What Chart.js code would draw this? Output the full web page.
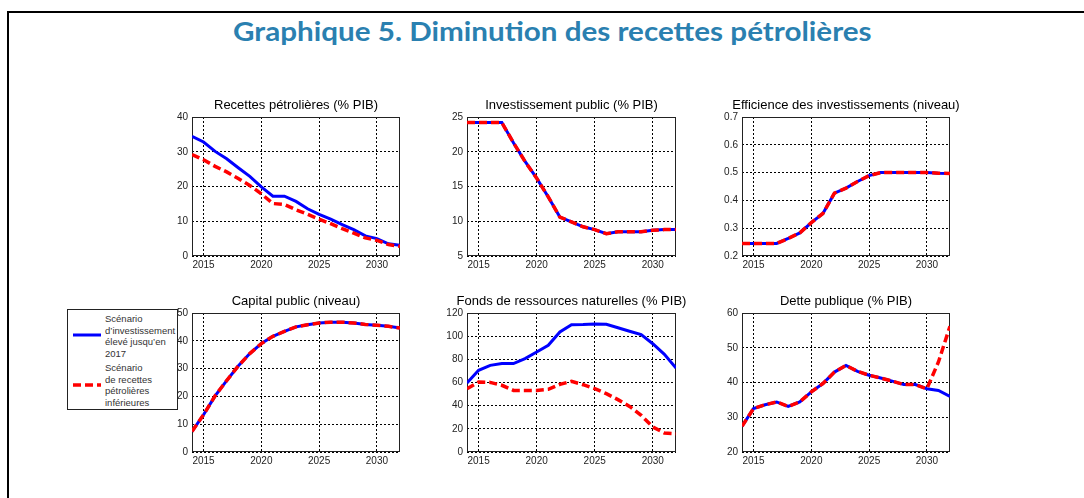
<!DOCTYPE html>
<html>
<head>
<meta charset="utf-8">
<script src="https://cdn.jsdelivr.net/npm/chart.js@4"></script>
<style>
  body { margin: 0; background: #fff; width: 1084px; height: 498px; overflow: hidden; position: relative;
         font-family: "Liberation Sans", Arial, sans-serif; }
  .frame { position: absolute; left: 7px; top: 11px; width: 1100px; height: 520px;
           border-top: 2px solid #000; border-left: 2px solid #000; }
  #mainTitle { position: absolute; top: 15px; left: 252px; width: 600px; text-align: center;
               font-family: Lato, "Open Sans", sans-serif; font-weight: bold; font-size: 26px;
               color: #2a80b0; white-space: nowrap; }
  #mainTitle span { display: inline-block; transform-origin: center; }
  canvas { position: absolute; }
  #legend { position: absolute; left: 67px; top: 309px; width: 109px; height: 99px; border: 1px solid #222; }
  #legend svg { position: absolute; left: 0; top: 0; }
  .lgText { position: absolute; left: 37px; font-size: 9.5px; line-height: 11.7px; color: #333; }
</style>
</head>
<body>
<div class="frame"></div>
<div id="mainTitle"><span>Graphique 5. Diminution des recettes pétrolières</span></div>

<div id="legend">
  <svg width="40" height="99">
    <line x1="5" y1="25" x2="33" y2="25" stroke="#0000ff" stroke-width="3"/>
    <line x1="5" y1="75" x2="33" y2="75" stroke="#ff0000" stroke-width="3.5" stroke-dasharray="8,4"/>
  </svg>
  <div class="lgText" id="lg1" style="top:3px"></div>
  <div class="lgText" id="lg2" style="top:52px"></div>
</div>

<canvas id="c1"></canvas>
<canvas id="c2"></canvas>
<canvas id="c3"></canvas>
<canvas id="c4"></canvas>
<canvas id="c5"></canvas>
<canvas id="c6"></canvas>

<script>
// Years on the x axis
const years = [2014, 2015, 2016, 2017, 2018, 2019, 2020, 2021, 2022, 2023,
               2024, 2025, 2026, 2027, 2028, 2029, 2030, 2031, 2032];
const xTicks = [2015, 2020, 2025, 2030];

// Legend labels (one line per entry)
const nameHaut = ['Scénario', 'd’investissement', 'élevé jusqu’en', '2017'];
const nameBas = ['Scénario', 'de recettes', 'pétrolières', 'inférieures'];

// Recettes pétrolières (% PIB)
const recettesHaut = [34.4, 32.8, 30.1, 28.0, 25.4, 22.9, 19.9, 17.2, 17.2, 15.7,
                      13.6, 12.0, 10.6, 9.0, 7.6, 5.8, 5.0, 3.5, 3.1];
const recettesBas = [29.2, 27.7, 25.8, 24.2, 22.3, 20.3, 17.9, 15.1, 14.8, 13.3,
                     12.0, 10.6, 9.3, 7.9, 6.6, 5.2, 4.5, 3.3, 2.8];

// Investissement public (% PIB)
const investHaut = [24.2, 24.2, 24.2, 24.2, 21.3, 18.6, 16.2, 13.5, 10.6, 9.9,
                    9.2, 8.8, 8.2, 8.5, 8.5, 8.5, 8.7, 8.8, 8.8];
const investBas = [24.2, 24.2, 24.2, 24.2, 21.3, 18.6, 16.2, 13.5, 10.6, 9.9,
                   9.2, 8.8, 8.2, 8.5, 8.5, 8.5, 8.7, 8.8, 8.8];

// Efficience des investissements (niveau)
const efficHaut = [0.245, 0.245, 0.245, 0.245, 0.263, 0.283, 0.32, 0.353, 0.426, 0.444,
                   0.468, 0.489, 0.5, 0.5, 0.5, 0.5, 0.5, 0.498, 0.497];
const efficBas = [0.245, 0.245, 0.245, 0.245, 0.263, 0.283, 0.32, 0.353, 0.426, 0.444,
                  0.468, 0.489, 0.5, 0.5, 0.5, 0.5, 0.5, 0.498, 0.497];

// Capital public (niveau)
const capitalHaut = [7.4, 13.4, 20.2, 25.7, 30.9, 35.4, 39.0, 41.6, 43.4, 45.0,
                     45.8, 46.4, 46.7, 46.7, 46.4, 45.9, 45.6, 45.2, 44.6];
const capitalBas = [7.4, 13.4, 20.2, 25.7, 30.9, 35.4, 39.0, 41.6, 43.4, 45.0,
                    45.8, 46.4, 46.7, 46.7, 46.4, 45.9, 45.6, 45.2, 44.6];

// Fonds de ressources naturelles (% PIB)
const fondsHaut = [59.6, 70.5, 74.8, 76.3, 76.3, 80.6, 86.3, 92.1, 103.6, 109.9,
                   110.0, 110.5, 110.2, 107.3, 104.2, 101.3, 93.5, 84.3, 72.5];
const fondsBas = [54.7, 60.4, 60.1, 57.6, 53.2, 53.2, 53.2, 54.1, 58.4, 61.0,
                  58.1, 54.7, 50.4, 45.2, 39.4, 31.7, 21.6, 16.4, 15.8];

// Dette publique (% PIB)
const detteHaut = [27.4, 32.5, 33.6, 34.4, 33.1, 34.4, 37.3, 39.7, 43.0, 44.9,
                   43.2, 42.1, 41.3, 40.4, 39.4, 39.4, 38.2, 37.7, 36.0];
const detteBas = [27.4, 32.5, 33.6, 34.4, 33.1, 34.4, 37.3, 39.7, 43.0, 44.9,
                  43.2, 42.1, 41.3, 40.4, 39.4, 39.4, 38.2, 45.9, 56.2];

document.getElementById('lg1').innerHTML = nameHaut.join('<br>');
document.getElementById('lg2').innerHTML = nameBas.join('<br>');

// squeeze the main title to the width of the original
const titleSpan = document.querySelector('#mainTitle span');
titleSpan.style.transform = 'scaleX(' + (639 / titleSpan.offsetWidth) + ')';

Chart.defaults.font.family = '"Liberation Sans", Arial, sans-serif';
Chart.defaults.animation = false;

// plot box outline, drawn under the lines
const plotFrame = {
  id: 'plotFrame',
  beforeDatasetsDraw(chart) {
    const a = chart.chartArea;
    const ctx = chart.ctx;
    ctx.save();
    ctx.strokeStyle = '#222';
    ctx.lineWidth = 1;
    ctx.strokeRect(a.left + 0.5, a.top + 0.5, a.right - a.left - 1, a.bottom - a.top - 1);
    ctx.restore();
  }
};

// panel title centred over the plot area (the built-in title squeezes long text)
const panelTitle = {
  id: 'panelTitle',
  afterDraw(chart, args, opts) {
    const a = chart.chartArea;
    const ctx = chart.ctx;
    ctx.save();
    ctx.font = '13px "Liberation Sans", Arial, sans-serif';
    ctx.fillStyle = '#000';
    ctx.textAlign = 'center';
    ctx.textBaseline = 'middle';
    ctx.fillText(opts.text, (a.left + a.right) / 2, a.top - 12);
    ctx.restore();
  }
};

function toPoints(values) {
  return years.map((y, i) => ({ x: y, y: values[i] }));
}

function makeChart(id, box, title, hi, lo, yMin, yMax, yStep, fmt) {
  const canvas = document.getElementById(id);
  canvas.width = box.r - box.l + 80;
  canvas.height = box.b - box.t + 24 + 20;
  canvas.style.left = (box.l - 40) + 'px';
  canvas.style.top = (box.t - 24) + 'px';

  return new Chart(canvas, {
    type: 'line',
    data: {
      datasets: [{
        label: nameBas.join(' '),
        data: toPoints(lo),
        borderColor: '#ff0000',
        borderWidth: 3.5,
        borderDash: [8, 4],
        pointRadius: 0,
        tension: 0,
        order: 0
      }, {
        label: nameHaut.join(' '),
        data: toPoints(hi),
        borderColor: '#0000ff',
        borderWidth: 3,
        pointRadius: 0,
        tension: 0,
        order: 1
      }]
    },
    options: {
      responsive: false,
      layout: { padding: { left: 0, right: 40, top: 24, bottom: 0 } },
      plugins: {
        legend: { display: false },
        tooltip: { enabled: false },
        title: { display: false },
        panelTitle: { text: title }
      },
      scales: {
        x: {
          type: 'linear',
          min: 2014,
          max: 2032,
          afterBuildTicks: s => { s.ticks = xTicks.map(v => ({ value: v })); },
          afterFit: s => { s.height = 20; },
          ticks: {
            color: '#222',
            font: { size: 10 },
            padding: 3,
            maxRotation: 0,
            callback: v => String(v)
          },
          grid: { color: '#000', lineWidth: 1, drawTicks: false },
          border: { display: false, dash: [2, 2] }
        },
        y: {
          min: yMin,
          max: yMax,
          afterFit: s => { s.width = 40; },
          ticks: {
            stepSize: yStep,
            color: '#222',
            font: { size: 10 },
            padding: 4,
            callback: fmt
          },
          grid: { color: '#000', lineWidth: 1, drawTicks: false },
          border: { display: false, dash: [2, 2] }
        }
      }
    },
    plugins: [plotFrame, panelTitle]
  });
}

const intFmt = v => String(Math.round(v));
const decFmt = v => v.toFixed(1);

makeChart('c1', { l: 192, t: 117, r: 400, b: 256 }, 'Recettes pétrolières (% PIB)',
          recettesHaut, recettesBas, 0, 40, 10, intFmt);
makeChart('c2', { l: 467, t: 117, r: 676, b: 256 }, 'Investissement public (% PIB)',
          investHaut, investBas, 5, 25, 5, intFmt);
makeChart('c3', { l: 742, t: 117, r: 950, b: 256 }, 'Efficience des investissements (niveau)',
          efficHaut, efficBas, 0.2, 0.7, 0.1, decFmt);
makeChart('c4', { l: 192, t: 313, r: 400, b: 452 }, 'Capital public (niveau)',
          capitalHaut, capitalBas, 0, 50, 10, intFmt);
makeChart('c5', { l: 467, t: 313, r: 676, b: 452 }, 'Fonds de ressources naturelles (% PIB)',
          fondsHaut, fondsBas, 0, 120, 20, intFmt);
makeChart('c6', { l: 742, t: 313, r: 950, b: 452 }, 'Dette publique (% PIB)',
          detteHaut, detteBas, 20, 60, 10, intFmt);
</script>
</body>
</html>
